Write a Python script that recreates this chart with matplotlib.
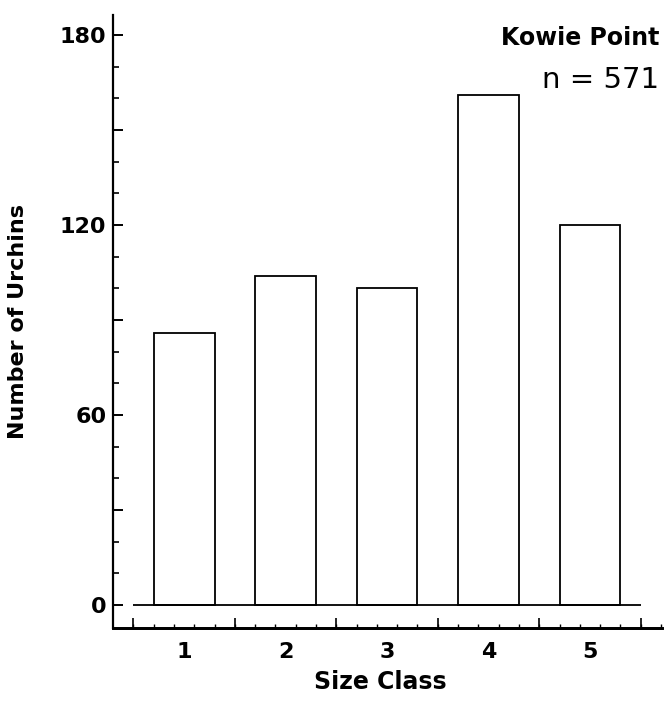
import numpy as np
import matplotlib
matplotlib.use("Agg")
import matplotlib.pyplot as plt
from matplotlib.ticker import FixedLocator, MultipleLocator, FuncFormatter

# urchin counts per size class at Kowie Point
size_classes = [1, 2, 3, 4, 5]
counts = [86, 104, 100, 161, 120]
site = "Kowie Point"

plt.rcParams['font.family'] = ['DejaVu Sans']

fig = plt.figure(figsize=(6.67, 7.19), dpi=100)
ax = fig.add_axes([0.170, 0.1266, 0.8225, 0.8524])

ax.bar(size_classes, counts, width=0.6, bottom=0, fill=False,
       edgecolor='black', linewidth=1.3, zorder=3)
# baseline under the bars
ax.hlines(0, 0.5, 5.5, color='black', linewidth=1.3, zorder=2)

ax.set_xlim(0.303, 5.71)
ax.set_ylim(-7.26, 186.3)

for side in ['top', 'right']:
    ax.spines[side].set_visible(False)
ax.spines['left'].set_linewidth(1.6)
ax.spines['bottom'].set_linewidth(2.0)

# y axis: ticks every 10, longer every 30, labels every 60
ax.yaxis.set_major_locator(MultipleLocator(30))
ax.yaxis.set_minor_locator(MultipleLocator(10))
ax.yaxis.set_major_formatter(FuncFormatter(
    lambda v, pos: f"{int(v)}" if int(round(v)) % 60 == 0 else ""))
ax.tick_params(axis='y', which='major', direction='in', length=7, width=1.4,
               pad=5, labelsize=16)
ax.tick_params(axis='y', which='minor', direction='in', length=4, width=1.2)
for lab in ax.get_yticklabels():
    lab.set_fontweight('bold')

# x axis: class labels at bar centres, fine ticks every 0.2
ax.set_xticks(size_classes)
ax.set_xticklabels([str(c) for c in size_classes], fontsize=16, fontweight='bold')
ax.xaxis.set_minor_locator(FixedLocator(np.arange(0.5, 5.75, 0.2)))
ax.tick_params(axis='x', which='major', length=0, pad=10)
ax.tick_params(axis='x', which='minor', direction='in', length=3, width=1.0)

# class boundary ticks
sec = ax.secondary_xaxis('bottom')
sec.set_xticks(np.arange(0.5, 6.0, 1.0))
sec.set_xticklabels([])
sec.tick_params(direction='in', length=7, width=1.2)
sec.spines['bottom'].set_linewidth(2.0)

ax.set_ylabel("Number of Urchins", fontsize=16, fontweight='bold', labelpad=23)
fig.text(0.570, 0.052, "Size Class", fontsize=17, fontweight='bold',
         ha='center', va='center')

ax.text(0.988, 0.947, site, transform=fig.transFigure, fontsize=17,
        fontweight='bold', ha='right', va='center')
ax.text(0.988, 0.889, f"n = {sum(counts)}", transform=fig.transFigure,
        fontsize=21, ha='right', va='center')

fig.savefig("out.png", dpi=100)
